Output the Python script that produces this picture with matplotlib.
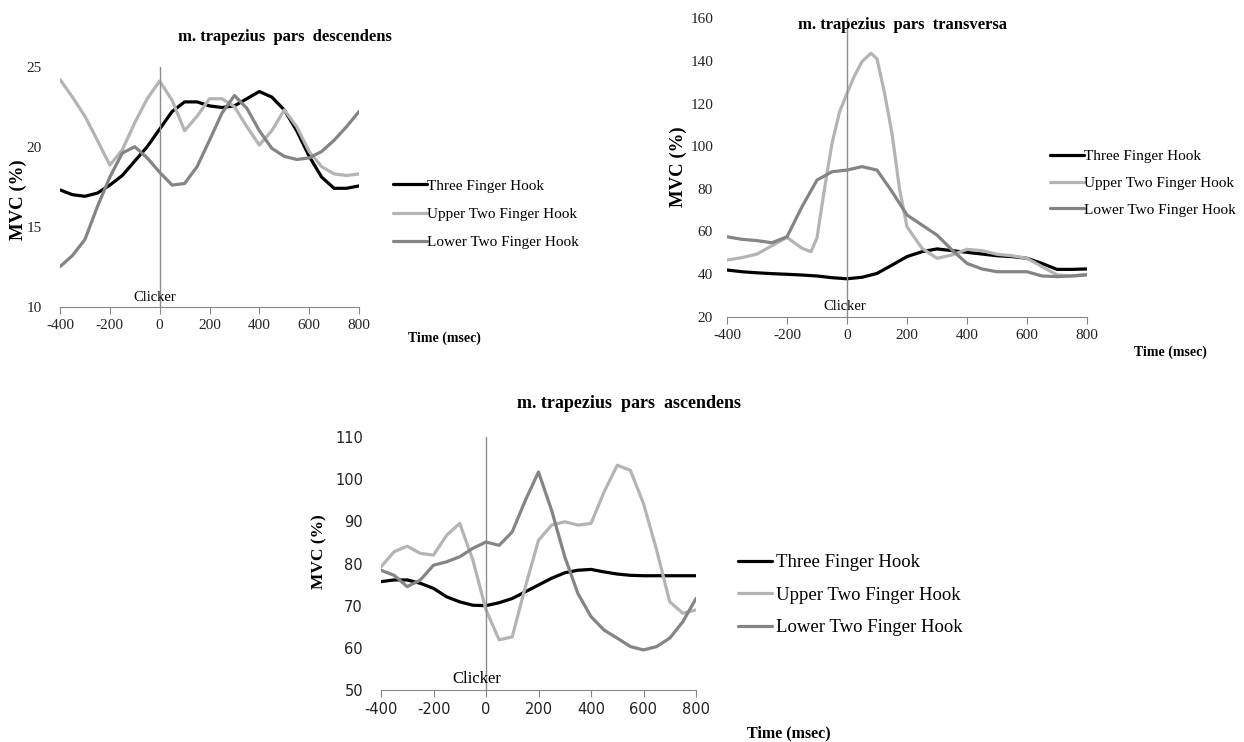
import matplotlib
matplotlib.use("Agg")
import matplotlib.pyplot as plt

plt.rcParams["axes.unicode_minus"] = False

# time axis (msec), read every 50 ms off the figure
time = [-400, -350, -300, -250, -200, -150, -100, -50, 0, 50, 100, 150, 200,
        250, 300, 350, 400, 450, 500, 550, 600, 650, 700, 750, 800]

labels = ["Three Finger Hook", "Upper Two Finger Hook", "Lower Two Finger Hook"]
colors = ["#000000", "#b4b4b4", "#848484"]

# m. trapezius pars descendens
desc_three = [17.3, 17.0, 16.9, 17.1, 17.6, 18.2, 19.1, 20.0, 21.1, 22.2, 22.8, 22.8, 22.55,
              22.45, 22.55, 23.0, 23.45, 23.1, 22.3, 21.0, 19.4, 18.1, 17.4, 17.4, 17.55]
desc_upper = [24.2, 23.1, 21.9, 20.4, 18.85, 19.8, 21.5, 23.0, 24.1, 22.9, 21.0, 21.9, 23.0,
              23.0, 22.5, 21.25, 20.1, 21.0, 22.3, 21.25, 19.7, 18.75, 18.3, 18.2, 18.3]
desc_lower = [12.5, 13.2, 14.2, 16.25, 18.1, 19.6, 20.0, 19.3, 18.4, 17.6, 17.7, 18.75, 20.4,
              22.1, 23.2, 22.4, 21.0, 19.9, 19.4, 19.2, 19.3, 19.7, 20.4, 21.25, 22.2]

# m. trapezius pars transversa (upper series has extra points around its sharp peak)
trans_three = [41.9, 41.1, 40.6, 40.2, 39.9, 39.55, 39.1, 38.3, 37.8, 38.5, 40.3, 44.2, 48.2,
               50.5, 51.8, 51.0, 50.2, 49.4, 48.6, 48.2, 47.4, 45.0, 42.2, 42.2, 42.4]
trans_upper_time = [-400, -350, -300, -250, -200, -150, -120, -100, -75, -50, -25, 0, 25, 50,
                    80, 100, 125, 150, 175, 200, 250, 300, 350, 400, 450, 500, 550, 600,
                    650, 700, 750, 800]
trans_upper = [46.6, 47.7, 49.4, 53.3, 57.2, 52.1, 50.5, 57.0, 80.0, 101.3, 116.0, 124.8, 133.0,
               139.7, 143.6, 141.0, 125.0, 106.0, 80.0, 62.2, 52.1, 47.4, 49.0, 51.6, 51.0,
               49.3, 48.6, 47.4, 43.5, 39.6, 39.1, 39.9]
trans_lower = [57.5, 56.3, 55.7, 54.7, 57.5, 71.6, 84.1, 88.0, 88.8, 90.4, 88.8, 78.7, 67.7,
               63.0, 58.3, 51.3, 45.0, 42.4, 41.1, 41.1, 41.1, 39.1, 38.8, 39.1, 39.6]

# m. trapezius pars ascendens
asc_three = [75.7, 76.1, 76.1, 75.3, 74.1, 72.1, 70.9, 70.1, 70.0, 70.7, 71.7, 73.3, 74.9,
             76.5, 77.8, 78.4, 78.6, 78.0, 77.5, 77.2, 77.1, 77.1, 77.1, 77.1, 77.1]
asc_upper = [79.2, 82.8, 84.1, 82.4, 82.0, 86.7, 89.5, 80.8, 69.0, 61.9, 62.6, 74.5, 85.5,
             89.1, 89.9, 89.1, 89.5, 97.0, 103.3, 102.1, 94.2, 83.2, 70.9, 68.2, 69.0]
asc_lower = [78.4, 77.2, 74.5, 76.1, 79.6, 80.4, 81.6, 83.6, 85.1, 84.3, 87.5, 95.0, 101.7,
             92.6, 81.6, 72.9, 67.4, 64.2, 62.3, 60.3, 59.5, 60.3, 62.3, 66.2, 71.7]

W, H = 1244, 742
SERIF = "Liberation Serif"

fig = plt.figure(figsize=(W / 100, H / 100), dpi=100)


def px_axes(x0, y0, x1, y1):
    # rectangle given in picture pixels (top-left origin)
    return fig.add_axes([x0 / W, 1 - y1 / H, (x1 - x0) / W, (y1 - y0) / H])


def panel(ax, series, ylim, yticks, tick_font, tick_size, ypad, clicker_x, clicker_size):
    for (t, vals), lab, col in zip(series, labels, colors):
        ax.plot(t, vals, color=col, lw=2.3, label=lab, solid_capstyle="round",
                solid_joinstyle="round")
    ax.set_xlim(-400, 800)
    ax.set_ylim(*ylim)
    ax.set_xticks(range(-400, 801, 200))
    ax.set_yticks(yticks)
    for s in ["top", "right", "left"]:
        ax.spines[s].set_visible(False)
    ax.spines["bottom"].set_color("#868686")
    ax.axvline(0, color="#8c8c8c", lw=1.0)
    ax.tick_params(axis="x", length=5, color="#868686", direction="out", pad=4)
    ax.tick_params(axis="y", length=0, pad=ypad)
    for lab in ax.get_xticklabels() + ax.get_yticklabels():
        lab.set_family(tick_font)
        lab.set_fontsize(tick_size)
        lab.set_color("#222222")
    ax.text(clicker_x, 0.012, "Clicker", transform=ax.get_xaxis_transform(),
            ha="center", va="bottom", family=SERIF, fontsize=clicker_size)


# descendens
ax1 = px_axes(60, 66.7, 359, 306.7)
panel(ax1, [(time, desc_three), (time, desc_upper), (time, desc_lower)],
      (10, 25), [10, 15, 20, 25], SERIF, 11, 13, -20, 10.5)
fig.text(285 / W, 1 - 37 / H, "m. trapezius  pars  descendens", ha="center", va="center",
         family=SERIF, weight="bold", fontsize=12)
fig.text(18 / W, 1 - 200 / H, "MVC (%)", rotation=90, ha="center", va="center",
         family=SERIF, weight="bold", fontsize=13.5)
fig.text(444 / W, 1 - 338 / H, "Time (msec)", ha="center", va="center",
         family=SERIF, weight="bold", fontsize=10)
ax1.legend(loc="center left", bbox_to_anchor=(393 / W, 1 - 214 / H),
           bbox_transform=fig.transFigure, frameon=False, borderpad=0, borderaxespad=0,
           handlelength=2.2, handletextpad=0.05, labelspacing=0.95,
           prop={"family": SERIF, "size": 11})

# transversa
ax2 = px_axes(727, 18.3, 1087, 316.7)
panel(ax2, [(time, trans_three), (trans_upper_time, trans_upper), (time, trans_lower)],
      (20, 160), list(range(20, 161, 20)), SERIF, 11, 10, -7, 10.5)
fig.text(902 / W, 1 - 25 / H, "m. trapezius  pars  transversa", ha="center", va="center",
         family=SERIF, weight="bold", fontsize=12)
fig.text(678 / W, 1 - 167 / H, "MVC (%)", rotation=90, ha="center", va="center",
         family=SERIF, weight="bold", fontsize=13.5)
fig.text(1170 / W, 1 - 352 / H, "Time (msec)", ha="center", va="center",
         family=SERIF, weight="bold", fontsize=10)
ax2.legend(loc="center left", bbox_to_anchor=(1050 / W, 1 - 183 / H),
           bbox_transform=fig.transFigure, frameon=False, borderpad=0, borderaxespad=0,
           handlelength=2.2, handletextpad=0.05, labelspacing=0.85,
           prop={"family": SERIF, "size": 11})

# ascendens
ax3 = px_axes(381, 437, 696, 690)
panel(ax3, [(time, asc_three), (time, asc_upper), (time, asc_lower)],
      (50, 110), list(range(50, 111, 10)), "DejaVu Sans", 10.5, 13, -34, 12)
fig.text(629 / W, 1 - 403 / H, "m. trapezius  pars  ascendens", ha="center", va="center",
         family=SERIF, weight="bold", fontsize=13)
fig.text(319 / W, 1 - 552 / H, "MVC (%)", rotation=90, ha="center", va="center",
         family=SERIF, weight="bold", fontsize=12.5)
fig.text(789 / W, 1 - 733 / H, "Time (msec)", ha="center", va="center",
         family=SERIF, weight="bold", fontsize=11.5)
ax3.legend(loc="center left", bbox_to_anchor=(738 / W, 1 - 595 / H),
           bbox_transform=fig.transFigure, frameon=False, borderpad=0, borderaxespad=0,
           handlelength=1.8, handletextpad=0.25, labelspacing=0.82,
           prop={"family": SERIF, "size": 13.5})

fig.savefig("out.png", dpi=100)
